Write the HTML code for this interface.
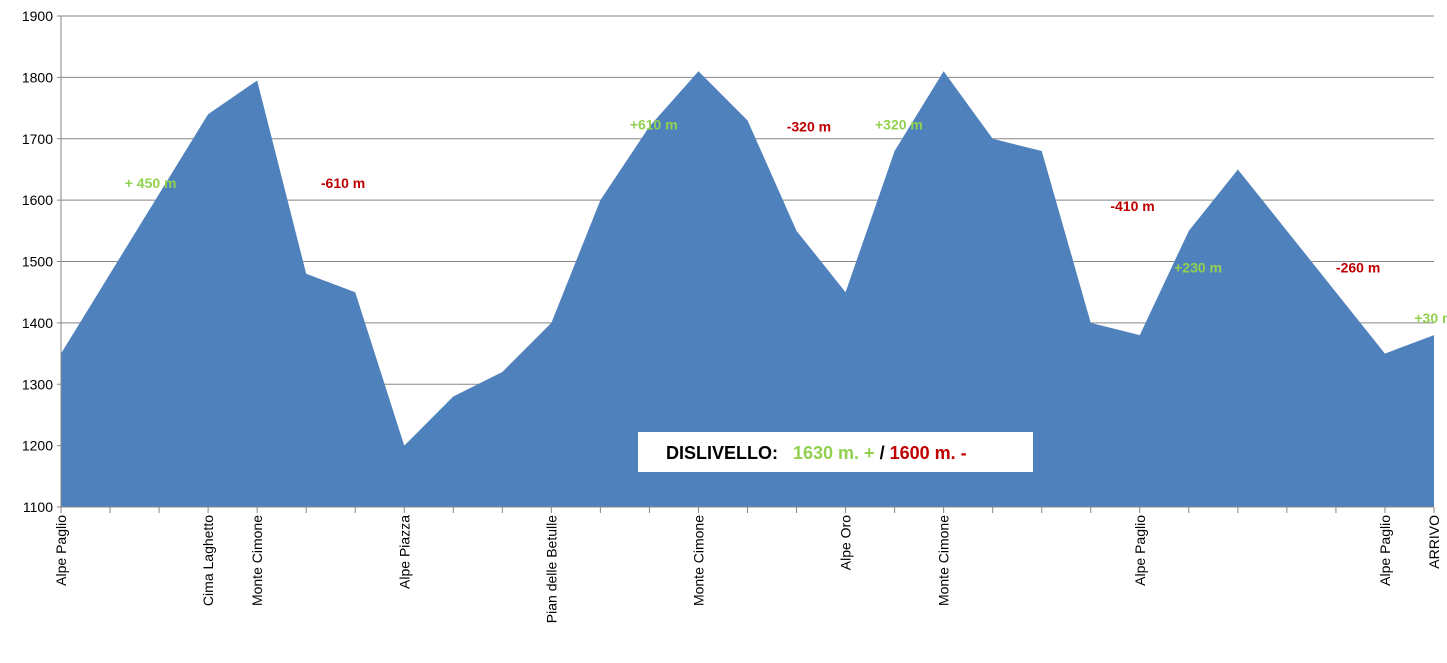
<!DOCTYPE html>
<html><head><meta charset="utf-8"><style>
body{margin:0;background:#fff}
svg{font-family:"Liberation Sans",sans-serif}
</style></head><body>
<svg id="c" width="1447" height="658"></svg>
<script>
const categories=["Alpe Paglio","","","Cima Laghetto","Monte Cimone","","","Alpe Piazza","","","Pian delle Betulle","","","Monte Cimone","","","Alpe Oro","","Monte Cimone","","","","Alpe Paglio","","","","","Alpe Paglio","ARRIVO"];
const elevations=[1350,1480,1610,1740,1795,1480,1450,1200,1280,1320,1400,1600,1720,1810,1730,1550,1450,1680,1810,1700,1680,1400,1380,1550,1650,1550,1450,1350,1380];
const yTicks=[1100,1200,1300,1400,1500,1600,1700,1800,1900];
const annotations=[["+ 450 m",1.3,1620,"#92D050"],["-610 m",5.3,1620,"#C00000"],["+610 m",11.6,1715,"#92D050"],["-320 m",14.8,1712,"#C00000"],["+320 m",16.6,1715,"#92D050"],["-410 m",21.4,1582,"#C00000"],["+230 m",22.7,1482,"#92D050"],["-260 m",26.0,1482,"#C00000"],["+30 m",27.6,1400,"#92D050"]];
const NS="http://www.w3.org/2000/svg",svg=document.getElementById('c');
const x0=61,x1=1434,yTop=16,yBot=507;
const X=i=>x0+i*(x1-x0)/(categories.length-1);
const Y=v=>yBot-(v-1100)/800*(yBot-yTop);
function mk(t,a,p){const e=document.createElementNS(NS,t);for(const k in a)e.setAttribute(k,a[k]);(p||svg).appendChild(e);return e;}
yTicks.forEach(v=>{
 const l=mk('line',{x1:x0-4,x2:x1,y1:Y(v),y2:Y(v),stroke:'#868686','stroke-width':1});
 
 
 const t=mk('text',{x:x0-8,y:Y(v)+5,'text-anchor':'end','font-size':14});t.textContent=v;
 
 
});
let d='M'+X(0)+','+yBot;elevations.forEach((v,i)=>d+=' L'+X(i)+','+Y(v));d+=' L'+X(elevations.length-1)+','+yBot+'Z';
const a=mk('path',{d:d,fill:'#4F81BD'});


mk('line',{x1:x0,x2:x0,y1:yTop,y2:yBot,stroke:'#868686'});
mk('line',{x1:x0,x2:x1,y1:yBot,y2:yBot,stroke:'#868686'});
categories.forEach((c,i)=>{
 mk('line',{x1:X(i),x2:X(i),y1:yBot,y2:yBot+6,stroke:'#868686'});
 if(c){const t=mk('text',{transform:`translate(${X(i)+5},${yBot+8}) rotate(-90)`,'text-anchor':'end','font-size':14});t.textContent=c;
 
 }
});
annotations.forEach(([s,i,v,col])=>{
 const t=mk('text',{x:X(i),y:Y(v),'font-size':14,'font-weight':'bold',fill:col});t.textContent=s;
 
 
});
const g=mk('g',{});


mk('rect',{x:638,y:432,width:395,height:40,fill:'#fff'},g);
const t=mk('text',{x:666,y:459,'font-size':18,'font-weight':'bold'},g);
t.innerHTML='DISLIVELLO:  <tspan fill="#92D050" dx="10">1630 m. +</tspan> / <tspan fill="#C00000">1600 m. -</tspan>';
</script>
</body></html>
